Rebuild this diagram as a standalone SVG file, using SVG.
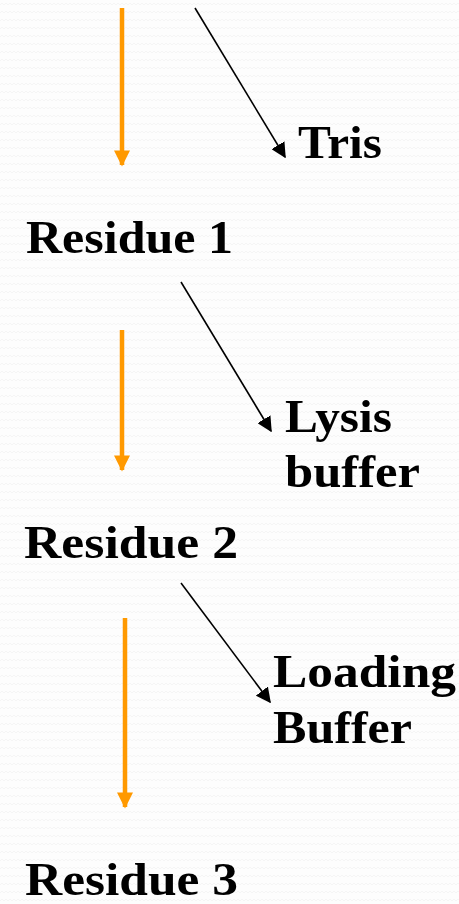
<svg xmlns="http://www.w3.org/2000/svg" width="459" height="904" viewBox="0 0 459 904">
  <defs>
    <pattern id="weave" width="8" height="8" patternUnits="userSpaceOnUse">
      <rect width="8" height="8" fill="#fdfdfd"/>
      <path d="M0 5 L2 3 L4 5 L6 3 L8 5" fill="none" stroke="#f5f5f5" stroke-width="1"/>
    </pattern>
    <marker id="headOrange" viewBox="0 0 10 10" refX="9" refY="5" markerWidth="3.6" markerHeight="3.6" orient="auto" markerUnits="strokeWidth">
      <path d="M0 0 L10 5 L0 10 Z" fill="#ff9900"/>
    </marker>
    <marker id="headBlack" viewBox="0 0 10 10" refX="9" refY="5" markerWidth="9.5" markerHeight="9.5" orient="auto" markerUnits="strokeWidth">
      <path d="M0 0 L10 5 L0 10 Z" fill="#000"/>
    </marker>
  </defs>
  <style>
    .lbl { font-family: "Liberation Serif", "DejaVu Serif", serif; font-weight: bold; font-size: 47px; fill: #000; }
    .flow { stroke: #ff9900; stroke-width: 4.5; fill: none; marker-end: url(#headOrange); }
    .add { stroke: #000; stroke-width: 1.6; fill: none; marker-end: url(#headBlack); }
  </style>
  <rect width="459" height="904" fill="url(#weave)"/>

  <g id="connectors">
    <line class="flow" x1="122" y1="8" x2="122" y2="165"/>
    <line class="add" x1="195" y1="8" x2="285" y2="157"/>
    <line class="flow" x1="122" y1="330" x2="122" y2="470"/>
    <line class="add" x1="181" y1="282" x2="271" y2="431"/>
    <line class="flow" x1="125" y1="618" x2="125" y2="807"/>
    <line class="add" x1="181" y1="583" x2="270" y2="702"/>
  </g>

  <g id="tris"><text class="lbl" x="298" y="158" textLength="84" lengthAdjust="spacingAndGlyphs">Tris</text></g>
  <g id="residue1"><text class="lbl" x="26" y="253" textLength="207" lengthAdjust="spacingAndGlyphs">Residue 1</text></g>
  <g id="lysis-buffer">
    <text class="lbl" x="285" y="432" textLength="107" lengthAdjust="spacingAndGlyphs">Lysis</text>
    <text class="lbl" x="285" y="487" textLength="135" lengthAdjust="spacingAndGlyphs">buffer</text>
  </g>
  <g id="residue2"><text class="lbl" x="24" y="558" textLength="214" lengthAdjust="spacingAndGlyphs">Residue 2</text></g>
  <g id="loading-buffer">
    <text class="lbl" x="273" y="687" textLength="183" lengthAdjust="spacingAndGlyphs">Loading</text>
    <text class="lbl" x="273" y="743" textLength="139" lengthAdjust="spacingAndGlyphs">Buffer</text>
  </g>
  <g id="residue3"><text class="lbl" x="25" y="895" textLength="213" lengthAdjust="spacingAndGlyphs">Residue 3</text></g>
</svg>
